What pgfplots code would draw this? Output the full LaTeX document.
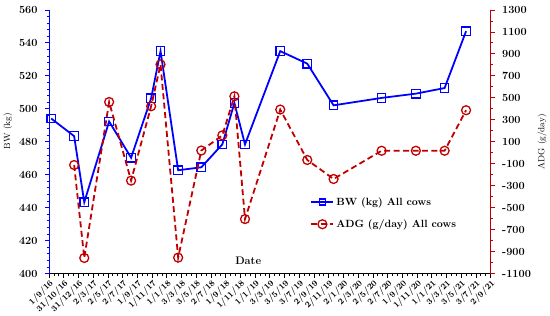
\documentclass[border=0pt]{standalone}
\usepackage{pgfplots}
\pgfplotsset{compat=1.18}
\definecolor{bwblue}{RGB}{0,0,255}
\definecolor{adgred}{RGB}{192,0,0}
\pgfplotsset{
  common/.style={
    scale only axis, width=444pt, height=265pt,
    xmin=0, xmax=1830,
    tick align=outside,
    major tick length=4pt, minor tick length=2.5pt,
    /pgf/number format/assume math mode=true,
    /pgf/number format/1000 sep={},
    clip=false,
  }
}
\begin{document}
\begin{tikzpicture}
\begin{axis}[
  common,
  ymin=400, ymax=560,
  axis x line*=bottom, axis y line*=left,
  xtick={0,61,...,1830},
  xticklabels={1/9/16,31/10/16,31/12/16,2/3/17,2/5/17,2/7/17,1/9/17,1/11/17,1/1/18,3/3/18,3/5/18,2/7/18,1/9/18,1/11/18,1/1/19,3/3/19,3/5/19,3/7/19,2/9/19,2/11/19,2/1/20,2/3/20,2/5/20,2/7/20,1/9/20,1/11/20,1/1/21,3/3/21,3/5/21,3/7/21,2/9/21},
  minor x tick num=2,
  x tick label style={rotate=45, anchor=north east, font=\bfseries\fontsize{8.6}{10}\selectfont, inner sep=1pt},
  xtick style={black, line width=0.8pt},
  x axis line style={black, line width=0.8pt},
  ytick={400,420,...,560},
  minor y tick num=4,
  y tick label style={font=\bfseries\fontsize{11}{13}\selectfont, xshift=-4pt},
  y axis line style={bwblue, line width=1pt},
  ytick style={bwblue, line width=0.8pt},
  ylabel={BW (kg)},
  ylabel style={font=\fontsize{9}{11}\selectfont, at={(ticklabel cs:0.54)}},
]
\addplot[bwblue, line width=1.8pt, mark=square, mark size=4.3pt, mark options={solid, line width=1.2pt, fill=none}] coordinates {
(9,494.1) (104,483.4) (146,443.3) (249,492.3) (340,470.3) (423,506.4) (462,535.0)
(535,462.7) (631,464.5) (718,478.4) (768,503.5) (812,478.4) (958,535.0) (1070,527.4)
(1179,502.1) (1378,506.6) (1520,509.2) (1639,512.6) (1728,547.1)
};
\node[font=\bfseries\fontsize{11}{13}\selectfont] at (rel axis cs:0.451,0.05) {Date};
\path ([yshift=10pt]rel axis cs:0,1);
\end{axis}
\begin{axis}[
  common,
  ymin=-1100, ymax=1300,
  axis y line*=right, axis x line=none,
  ytick={-1100,-900,...,1300},
  minor y tick num=1,
  y tick label style={font=\bfseries\fontsize{11}{13}\selectfont, xshift=4pt},
  y axis line style={adgred, line width=1pt},
  ytick style={adgred, line width=0.8pt},
  ylabel={ADG (g/day)},
  ylabel style={font=\fontsize{9}{11}\selectfont},
  legend style={at={(rel axis cs:0.585,0.305)}, anchor=north west, draw=none, fill=none, font=\bfseries\fontsize{10.5}{12}\selectfont, row sep=9pt, legend cell align=left},
  legend image code/.code={
    \draw[#1] (0pt,0pt) -- (22pt,0pt);
    \draw[#1, mark repeat=2, mark phase=2] plot coordinates {(0pt,0pt) (11pt,0pt) (22pt,0pt)};
  },
]
\addlegendimage{bwblue, line width=1.8pt, mark=square, mark size=3pt, mark options={solid, line width=1.2pt, fill=none}}
\addlegendentry{BW (kg) All cows}
\addplot[adgred, line width=1.8pt, dash pattern=on 6pt off 3.5pt, mark=o, mark size=4.5pt, mark options={solid, line width=1.3pt}] coordinates {
(104,-112) (146,-958) (249,462) (340,-254) (423,423) (462,804) (535,-955)
(631,20) (718,158) (768,514) (812,-604) (958,393) (1070,-66) (1179,-239)
(1378,18) (1520,18) (1639,18) (1728,387)
};
\addlegendentry{ADG (g/day) All cows}
\end{axis}
\end{tikzpicture}
\end{document}
